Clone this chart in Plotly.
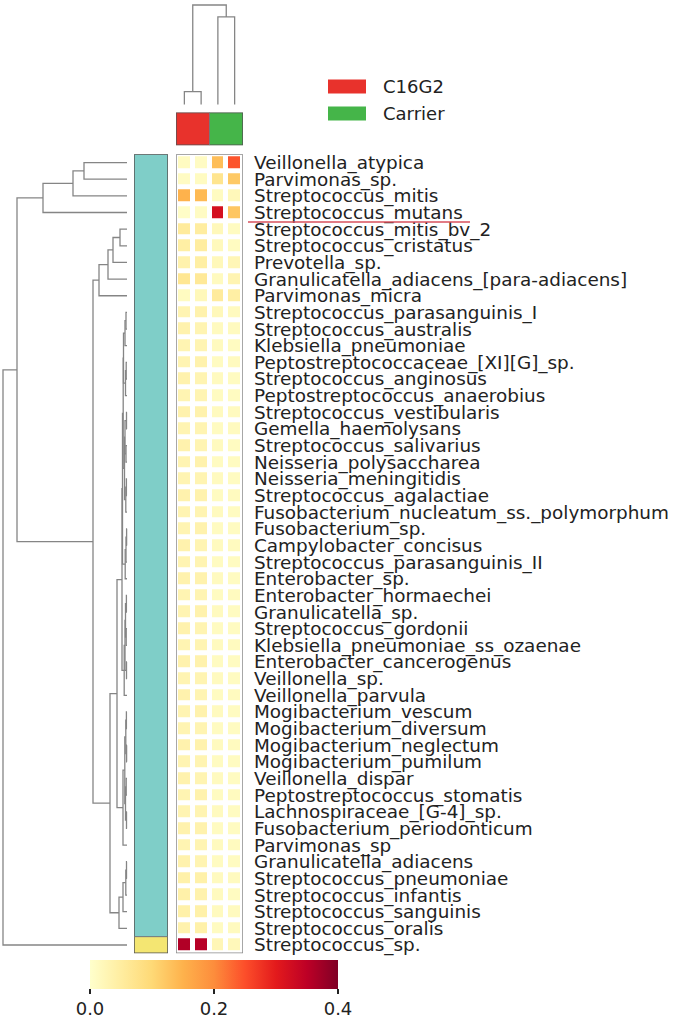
import plotly.graph_objects as go

W, H = 676, 1020
FONT = "DejaVu Sans"

species = [
    "Veillonella_atypica", "Parvimonas_sp.", "Streptococcus_mitis", "Streptococcus_mutans",
    "Streptococcus_mitis_bv_2", "Streptococcus_cristatus", "Prevotella_sp.",
    "Granulicatella_adiacens_[para-adiacens]", "Parvimonas_micra",
    "Streptococcus_parasanguinis_I", "Streptococcus_australis", "Klebsiella_pneumoniae",
    "Peptostreptococcaceae_[XI][G]_sp.", "Streptococcus_anginosus",
    "Peptostreptococcus_anaerobius", "Streptococcus_vestibularis", "Gemella_haemolysans",
    "Streptococcus_salivarius", "Neisseria_polysaccharea", "Neisseria_meningitidis",
    "Streptococcus_agalactiae", "Fusobacterium_nucleatum_ss._polymorphum",
    "Fusobacterium_sp.", "Campylobacter_concisus", "Streptococcus_parasanguinis_II",
    "Enterobacter_sp.", "Enterobacter_hormaechei", "Granulicatella_sp.",
    "Streptococcus_gordonii", "Klebsiella_pneumoniae_ss_ozaenae",
    "Enterobacter_cancerogenus", "Veillonella_sp.", "Veillonella_parvula",
    "Mogibacterium_vescum", "Mogibacterium_diversum", "Mogibacterium_neglectum",
    "Mogibacterium_pumilum", "Veillonella_dispar", "Peptostreptococcus_stomatis",
    "Lachnospiraceae_[G-4]_sp.", "Fusobacterium_periodonticum", "Parvimonas_sp",
    "Granulicatella_adiacens", "Streptococcus_pneumoniae", "Streptococcus_infantis",
    "Streptococcus_sanguinis", "Streptococcus_oralis", "Streptococcus_sp.",
]

# relative abundance, one list per sample (column order as drawn)
c16g2_1 = [0.012, 0.010, 0.150, 0.006, 0.055, 0.045, 0.035, 0.065, 0.012, 0.030,
           0.035, 0.030, 0.030, 0.035, 0.030, 0.035, 0.030, 0.035, 0.030, 0.030,
           0.035, 0.030, 0.030, 0.035, 0.030, 0.035, 0.030, 0.030, 0.035, 0.030,
           0.035, 0.030, 0.035, 0.030, 0.030, 0.035, 0.030, 0.035, 0.030, 0.030,
           0.035, 0.030, 0.035, 0.040, 0.040, 0.040, 0.035, 0.360]
c16g2_2 = [0.010, 0.012, 0.140, 0.010, 0.050, 0.050, 0.045, 0.060, 0.020, 0.035,
           0.030, 0.030, 0.035, 0.030, 0.030, 0.035, 0.030, 0.030, 0.035, 0.030,
           0.035, 0.030, 0.035, 0.030, 0.030, 0.035, 0.030, 0.035, 0.030, 0.030,
           0.035, 0.030, 0.030, 0.035, 0.030, 0.035, 0.030, 0.030, 0.035, 0.030,
           0.035, 0.030, 0.030, 0.040, 0.035, 0.040, 0.040, 0.355]
carrier_1 = [0.135, 0.070, 0.012, 0.320, 0.020, 0.018, 0.020, 0.015, 0.055, 0.020,
             0.015, 0.015, 0.012, 0.015, 0.012, 0.015, 0.012, 0.015, 0.012, 0.015,
             0.012, 0.015, 0.012, 0.015, 0.012, 0.015, 0.012, 0.015, 0.012, 0.015,
             0.012, 0.015, 0.012, 0.015, 0.012, 0.015, 0.012, 0.015, 0.012, 0.015,
             0.012, 0.015, 0.012, 0.015, 0.015, 0.015, 0.012, 0.025]
carrier_2 = [0.245, 0.120, 0.020, 0.125, 0.012, 0.012, 0.025, 0.030, 0.045, 0.015,
             0.015, 0.012, 0.015, 0.012, 0.012, 0.015, 0.015, 0.012, 0.012, 0.012,
             0.015, 0.012, 0.012, 0.015, 0.012, 0.012, 0.015, 0.012, 0.012, 0.015,
             0.012, 0.012, 0.015, 0.012, 0.012, 0.015, 0.012, 0.012, 0.015, 0.012,
             0.012, 0.015, 0.012, 0.015, 0.012, 0.015, 0.015, 0.020]

sample_groups = [0, 0, 1, 1]          # 0 = C16G2, 1 = Carrier
row_groups = [0] * 47 + [1]

# linkage rows: [child_a, child_b, distance]; leaves are 0..47 in display order
row_links = [
    [0, 1, 0.43], [48, 2, 0.54], [49, 3, 0.84],
    [4, 5, 0.07], [51, 6, 0.14], [52, 7, 0.19], [53, 8, 0.28],
    [9, 10, 0.010], [55, 11, 0.020], [12, 13, 0.008], [57, 14, 0.015],
    [56, 58, 0.035], [15, 16, 0.005], [17, 18, 0.010], [60, 61, 0.020],
    [19, 20, 0.006], [63, 21, 0.012], [62, 64, 0.025], [22, 23, 0.004],
    [66, 24, 0.010], [67, 25, 0.018], [59, 65, 0.038], [69, 68, 0.045],
    [26, 27, 0.006], [28, 29, 0.008], [71, 72, 0.015], [30, 31, 0.005],
    [73, 74, 0.020], [75, 32, 0.028], [70, 76, 0.050],
    [33, 34, 0.006], [35, 36, 0.004], [78, 79, 0.012], [37, 38, 0.008],
    [39, 40, 0.005], [81, 82, 0.015], [80, 83, 0.022], [84, 41, 0.040],
    [77, 85, 0.100],
    [42, 43, 0.005], [87, 44, 0.012], [88, 45, 0.040], [89, 46, 0.080],
    [86, 90, 0.170], [54, 91, 0.340], [50, 92, 1.100], [93, 47, 1.240],
]
col_links = [[0, 1, 0.13], [2, 3, 0.88], [4, 5, 1.00]]

ylorrd = [[0.0, "#ffffcc"], [0.125, "#ffeda0"], [0.25, "#fed976"], [0.375, "#feb24c"],
          [0.5, "#fd8d3c"], [0.625, "#fc4e2a"], [0.75, "#e31a1c"], [0.875, "#bd0026"],
          [1.0, "#800026"]]
red, green = "#E8322C", "#45B549"
teal, yellow = "#7FCEC8", "#F4E672"


def dendro(links, n):
    pos = {i: float(i) for i in range(n)}
    hgt = {i: 0.0 for i in range(n)}
    p, h = [], []
    for k, (a, b, d) in enumerate(links):
        p += [pos[a], pos[a], pos[b], pos[b], None]
        h += [hgt[a], d, d, hgt[b], None]
        pos[n + k] = (pos[a] + pos[b]) / 2
        hgt[n + k] = d
    return p, h


def px(x):
    return x / W


def py(y):
    return 1 - y / H


fig = go.Figure()

rp, rh = dendro(row_links, len(species))
fig.add_trace(go.Scatter(x=rh, y=rp, mode="lines", xaxis="x", yaxis="y",
                         line=dict(color="#858585", width=1.3), hoverinfo="skip",
                         showlegend=False))

fig.add_trace(go.Heatmap(z=[[g] for g in row_groups], x=[0], y=list(range(len(species))),
                         xaxis="x2", yaxis="y", colorscale=[[0, teal], [1, yellow]],
                         zmin=0, zmax=1, showscale=False, hoverinfo="skip"))

z = [list(r) for r in zip(c16g2_1, c16g2_2, carrier_1, carrier_2)]
fig.add_trace(go.Heatmap(
    z=z, x=[0, 1, 2, 3], y=list(range(len(species))), xaxis="x3", yaxis="y",
    colorscale=ylorrd, zmin=0, zmax=0.4, xgap=5, ygap=5,
    colorbar=dict(orientation="h", x=px(214), xanchor="center", y=py(963), yanchor="top",
                  len=248, lenmode="pixels", thickness=29, thicknessmode="pixels",
                  xpad=0, ypad=0, outlinewidth=0, tickvals=[0, 0.2, 0.4],
                  ticktext=["0.0", "0.2", "0.4"], ticks="outside", ticklen=5,
                  tickwidth=1.5, tickcolor="#222",
                  tickfont=dict(family=FONT, size=18, color="#222"))))

fig.add_trace(go.Heatmap(z=[sample_groups], x=[0, 1, 2, 3], y=[0], xaxis="x3", yaxis="y2",
                         colorscale=[[0, red], [1, green]], zmin=0, zmax=1,
                         showscale=False, hoverinfo="skip"))

cp, ch = dendro(col_links, 4)
fig.add_trace(go.Scatter(x=cp, y=ch, mode="lines", xaxis="x3", yaxis="y3",
                         line=dict(color="#858585", width=1.3), hoverinfo="skip",
                         showlegend=False))

hidden = dict(visible=False, showgrid=False, zeroline=False)
fig.update_layout(
    width=W, height=H, margin=dict(l=0, r=0, t=0, b=0),
    paper_bgcolor="white", plot_bgcolor="white", showlegend=False,
    xaxis=dict(domain=[0, px(130)], range=[1.27, -0.03], anchor="y", **hidden),
    xaxis2=dict(domain=[px(134), px(168)], range=[-0.5, 0.5], anchor="y", **hidden),
    xaxis3=dict(domain=[px(176), px(243)], range=[-0.5, 3.5], anchor="y", **hidden),
    yaxis=dict(domain=[py(956), py(153)], range=[47.5, -0.5], anchor="x3", side="right",
               tickvals=list(range(len(species))), ticktext=species, ticks="",
               ticklabelstandoff=10, showgrid=False, zeroline=False, showline=False,
               tickfont=dict(family=FONT, size=18.4, color="#222")),
    yaxis2=dict(domain=[py(144), py(111)], range=[0.5, -0.5], anchor="x3", **hidden),
    yaxis3=dict(domain=[py(106), 1], range=[-0.03, 1.03], anchor="x3", **hidden),
)

# frames round the strips and heatmap
fig.add_shape(type="rect", xref="x3", yref="y", x0=-0.5, x1=3.5, y0=-0.5, y1=47.5,
              line=dict(color="#8a8a8a", width=1.5))
fig.add_shape(type="rect", xref="x2", yref="y", x0=-0.5, x1=0.5, y0=-0.5, y1=47.5,
              line=dict(color="#555", width=1.5))
fig.add_shape(type="line", xref="x2", yref="y", x0=-0.5, x1=0.5, y0=46.5, y1=46.5,
              line=dict(color="#777", width=1))
fig.add_shape(type="rect", xref="x3", yref="y2", x0=-0.5, x1=3.5, y0=-0.5, y1=0.5,
              line=dict(color="#555", width=1.5))
fig.add_shape(type="line", xref="x3", yref="y2", x0=1.5, x1=1.5, y0=-0.5, y1=0.5,
              line=dict(color="#777", width=1))

# hand-drawn underline under Streptococcus_mutans
fig.add_shape(type="line", xref="paper", yref="y", x0=px(248), x1=px(470), y0=3.57, y1=3.57,
              line=dict(color="#D9505C", width=1.5))

# group legend
for label, color, top in [("C16G2", red, 78), ("Carrier", green, 105)]:
    fig.add_shape(type="rect", xref="paper", yref="paper", x0=px(328), x1=px(366),
                  y0=py(top + 14), y1=py(top), line=dict(width=0), fillcolor=color)
    fig.add_annotation(xref="paper", yref="paper", x=px(381), y=py(top + 7), text=label,
                       showarrow=False, xanchor="left", yanchor="middle",
                       font=dict(family=FONT, size=18, color="#222"))

# the page's default body margin would push the 676x1020 figure out of the window
fig.write_html("out.html", config={"displayModeBar": False},
               post_script="document.body.style.margin = '0';")
